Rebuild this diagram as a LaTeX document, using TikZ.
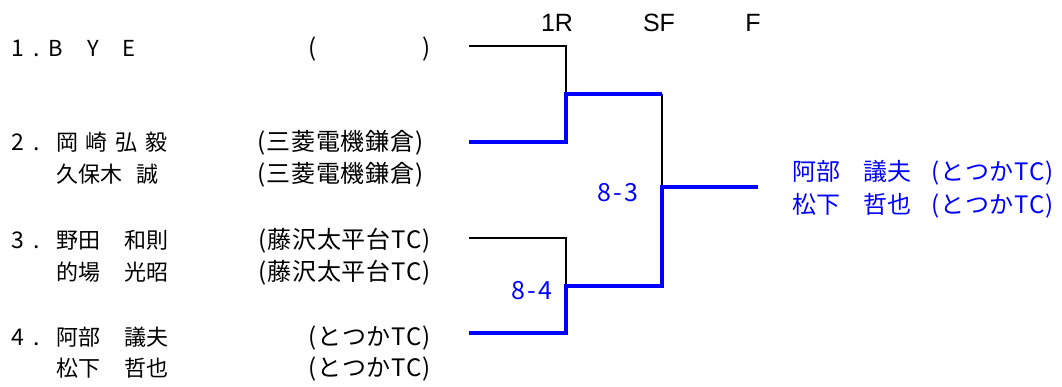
\documentclass[tikz,border=0pt]{standalone}
\usepackage{fontspec}
\setmainfont{Noto Sans CJK JP}
\newfontfamily\clubfont{Noto Sans CJK JP}[LetterSpace=4]
\newfontfamily\scorefont{Noto Sans CJK JP}[LetterSpace=8]
\newfontfamily\roundfont{Liberation Sans}
\definecolor{winblue}{RGB}{0,0,255}

\tikzset{
  every node/.style={inner sep=0pt, outer sep=0pt},
  num/.style={anchor=base west, font=\fontsize{23}{23}\selectfont},
  player/.style={anchor=base west, font=\fontsize{22}{22}\selectfont},
  club/.style={anchor=base east, font=\clubfont\fontsize{24}{24}\selectfont},
  champ/.style={anchor=base west, text=winblue, font=\fontsize{24}{24}\selectfont},
  champclub/.style={anchor=base east, text=winblue, font=\clubfont\fontsize{24}{24}\selectfont},
  score/.style={text=winblue, font=\scorefont\fontsize{25}{25}\selectfont},
  round/.style={anchor=base, font=\roundfont\fontsize{25}{25}\selectfont},
  loser/.style={black, line width=1.5pt},
  winner/.style={winblue, line width=4pt},
}

\begin{document}
\begin{tikzpicture}[x=1pt, y=-1pt]
\useasboundingbox (0,0) rectangle (1062,387);

% round headings
\node[round] (r1) at (557,32) {1R};
\node[round] (rsf) at (659,32) {SF};
\node[round] (rf) at (753,32) {F};

% draw 1
\node[num] (n1) at (12,57) {1\hspace{9pt}.};
\node[player] (p1) at (48,57) {B\hspace{25pt}Y\hspace{23pt}E};
\node[club] (c1) at (431,57) {(\hspace{106pt})};

% draw 2
\node[num] (n2) at (12,151) {2\hspace{9pt}.};
\node[player] (p2a) at (56,151) {岡\hspace{8pt}崎\hspace{8pt}弘\hspace{8pt}毅};
\node[player] (p2b) at (56,183) {久保木\hspace{15pt}誠};
\node[club] (c2a) at (424,151) {(三菱電機鎌倉)};
\node[club] (c2b) at (424,183) {(三菱電機鎌倉)};

% draw 3
\node[num] (n3) at (12,248) {3\hspace{9pt}.};
\node[player] (p3a) at (56,248) {野田\hspace{25pt}和則};
\node[player] (p3b) at (56,280) {的場\hspace{25pt}光昭};
\node[club] (c3a) at (431,248) {(藤沢太平台TC)};
\node[club] (c3b) at (431,280) {(藤沢太平台TC)};

% draw 4
\node[num] (n4) at (12,345) {4\hspace{9pt}.};
\node[player] (p4a) at (56,345) {阿部\hspace{25pt}議夫};
\node[player] (p4b) at (56,376) {松下\hspace{25pt}哲也};
\node[club] (c4a) at (431,345) {(とつかTC)};
\node[club] (c4b) at (431,376) {(とつかTC)};

% bracket points
\coordinate (s1) at (469,46);
\coordinate (s2) at (469,142);
\coordinate (s3) at (469,238);
\coordinate (s4) at (469,333);
\coordinate (m1) at (566,94);
\coordinate (m2) at (566,286);
\coordinate (w) at (662,187);
\coordinate (f) at (758,187);

% losing sides
\draw[loser] (s1) -| (m1);
\draw[loser] (s3) -| (m2);
\draw[loser] (m1 -| w) -- (w);

% winning path
\draw[winner] (s2) -| (m1) -- (m1 -| w);
\draw[winner] (s4) -| (m2) -| (w) -- (f);

% scores
\node[score] (sc1) at (618,193) {8-3};
\node[score] (sc2) at (532,291) {8-4};

% champion
\node[champ] (w1) at (792,181) {阿部\hspace{23pt}議夫};
\node[champ] (w2) at (792,214) {松下\hspace{23pt}哲也};
\node[champclub] (wc1) at (1054,181) {(とつかTC)};
\node[champclub] (wc2) at (1054,214) {(とつかTC)};
\end{tikzpicture}
\end{document}
